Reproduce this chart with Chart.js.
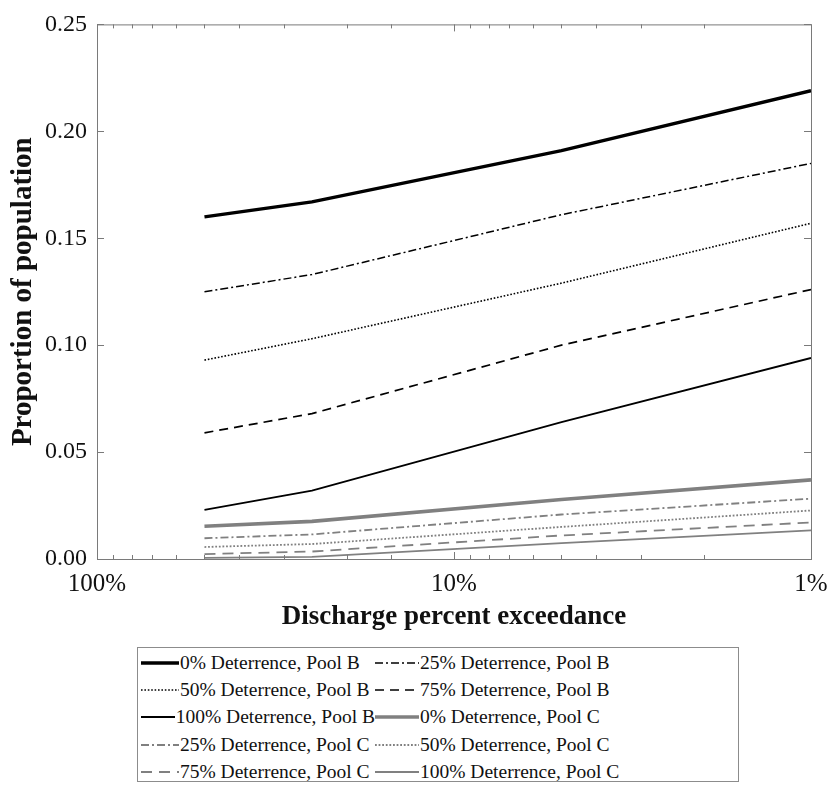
<!DOCTYPE html>
<html>
<head>
<meta charset="utf-8">
<script src="https://cdn.jsdelivr.net/npm/chart.js@4"></script>
<style>
  body { margin: 0; background: #fff; }
  #wrap { position: relative; width: 829px; height: 787px; }
  #plot { position: absolute; left: 0; top: 0; width: 829px; height: 640px; }
  #legend {
    position: absolute; left: 137px; top: 647px; width: 602px; height: 135px;
    border: 1px solid #8c8c8c; box-sizing: border-box;
    font-family: "Liberation Serif", "Times New Roman", serif; font-size: 19.5px; color: #111;
    display: grid; grid-template-columns: 234px 1fr; padding: 1px 0 0 3px;
  }
  #legend .item { display: flex; align-items: center; height: 27.4px; white-space: nowrap; }
  #legend svg { margin-right: 1px; }
</style>
</head>
<body>
<div id="wrap">
  <div id="plot"><canvas id="popChart"></canvas></div>
  <div id="legend"></div>
</div>
<script>
// exceedance probability (%) of each modelled discharge
const exceedance = [50, 25, 5, 1];

const seriesNames = [
  '0% Deterrence, Pool B', '25% Deterrence, Pool B', '50% Deterrence, Pool B',
  '75% Deterrence, Pool B', '100% Deterrence, Pool B',
  '0% Deterrence, Pool C', '25% Deterrence, Pool C', '50% Deterrence, Pool C',
  '75% Deterrence, Pool C', '100% Deterrence, Pool C'
];

const poolB0   = [0.160, 0.167, 0.191, 0.219];
const poolB25  = [0.125, 0.133, 0.161, 0.185];
const poolB50  = [0.093, 0.103, 0.129, 0.157];
const poolB75  = [0.059, 0.068, 0.100, 0.126];
const poolB100 = [0.023, 0.032, 0.064, 0.094];
const poolC0   = [0.0153, 0.0176, 0.0278, 0.0370];
const poolC25  = [0.0097, 0.0115, 0.0208, 0.0282];
const poolC50  = [0.0056, 0.0070, 0.0150, 0.0227];
const poolC75  = [0.0023, 0.0035, 0.0110, 0.0171];
const poolC100 = [0.0005, 0.0010, 0.0074, 0.0134];

const yTicks = [0, 0.05, 0.10, 0.15, 0.20, 0.25];
const xLabels = [100, 10, 1];

const values = [poolB0, poolB25, poolB50, poolB75, poolB100, poolC0, poolC25, poolC50, poolC75, poolC100];

const black = '#000000';
const gray = '#808080';
const styles = [
  { color: black, width: 3.4, dash: [] },
  { color: black, width: 1.5, dash: [8, 3, 2, 3] },
  { color: black, width: 1.6, dash: [1.6, 1.8] },
  { color: black, width: 1.7, dash: [9, 6] },
  { color: black, width: 1.8, dash: [] },
  { color: gray, width: 3.6, dash: [] },
  { color: gray, width: 1.8, dash: [8, 3, 2, 3] },
  { color: gray, width: 1.8, dash: [1.8, 1.8] },
  { color: gray, width: 1.8, dash: [11, 7] },
  { color: gray, width: 1.8, dash: [] }
];

const datasets = seriesNames.map(function (name, i) {
  return {
    label: name,
    data: exceedance.map((x, j) => ({ x: x, y: values[i][j] })),
    borderColor: styles[i].color,
    borderWidth: styles[i].width,
    borderDash: styles[i].dash,
    pointRadius: 0,
    tension: 0,
    fill: false
  };
});

// frame around the plot with inward tick marks on all four sides
const framePlugin = {
  id: 'frame',
  afterDraw(chart) {
    const ctx = chart.ctx;
    const a = chart.chartArea;
    const xs = chart.scales.x;
    const ys = chart.scales.y;
    ctx.save();
    ctx.strokeStyle = '#7a7a7a';
    ctx.lineWidth = 1;
    ctx.setLineDash([]);
    ctx.strokeRect(a.left + 0.5, a.top + 0.5, a.right - a.left, a.bottom - a.top);
    ctx.beginPath();
    xs.ticks.forEach(function (t) {
      const px = Math.round(xs.getPixelForValue(t.value)) + 0.5;
      const major = xLabels.indexOf(t.value) >= 0;
      const len = major ? 7 : 4;
      ctx.moveTo(px, a.bottom); ctx.lineTo(px, a.bottom - len);
      ctx.moveTo(px, a.top); ctx.lineTo(px, a.top + len);
    });
    yTicks.forEach(function (v) {
      const py = Math.round(ys.getPixelForValue(v)) + 0.5;
      ctx.moveTo(a.left, py); ctx.lineTo(a.left + 7, py);
      ctx.moveTo(a.right, py); ctx.lineTo(a.right - 7, py);
    });
    ctx.stroke();
    ctx.restore();
  }
};

const serif = '"Liberation Serif", "Times New Roman", serif';

new Chart(document.getElementById('popChart').getContext('2d'), {
  type: 'line',
  data: { datasets: datasets },
  options: {
    responsive: true,
    maintainAspectRatio: false,
    animation: false,
    layout: { padding: { top: 19, right: 18, left: 0, bottom: 0 } },
    plugins: {
      legend: { display: false },
      tooltip: { enabled: false }
    },
    scales: {
      x: {
        type: 'logarithmic',
        reverse: true,
        min: 1,
        max: 100,
        border: { display: false },
        grid: { display: false, drawTicks: false },
        ticks: {
          autoSkip: false,
          maxRotation: 0,
          padding: 10,
          color: '#111',
          font: { family: serif, size: 25 },
          callback: function (v) { return xLabels.indexOf(v) >= 0 ? v + '%' : ''; }
        },
        title: {
          display: true,
          text: 'Discharge percent exceedance',
          color: '#111',
          font: { family: serif, size: 27, weight: 'bold' },
          padding: { top: 0, bottom: 7 }
        },
        afterFit: function (s) {
          s.height = 81;
          s.paddingLeft = 0;
          s.paddingRight = 0;
        }
      },
      y: {
        min: 0,
        max: 0.25,
        border: { display: false },
        grid: { display: false, drawTicks: false },
        afterBuildTicks: function (s) { s.ticks = yTicks.map(v => ({ value: v })); },
        ticks: {
          padding: 10,
          color: '#111',
          font: { family: serif, size: 24 },
          callback: function (v) { return v.toFixed(2); }
        },
        title: {
          display: true,
          text: 'Proportion of population',
          color: '#111',
          font: { family: serif, size: 29, weight: 'bold' },
          padding: { top: 6, bottom: 0 }
        },
        afterFit: function (s) { s.width = 97; }
      }
    }
  },
  plugins: [framePlugin]
});

// legend: two columns, line samples drawn with the same styles
const legendEl = document.getElementById('legend');
seriesNames.forEach(function (name, i) {
  const st = styles[i];
  const w = (i % 2 === 0) ? 38 : 44;
  const item = document.createElement('div');
  item.className = 'item';
  item.innerHTML =
    '<svg width="' + w + '" height="10"><line x1="0" y1="5" x2="' + w + '" y2="5" stroke="' + st.color +
    '" stroke-width="' + st.width + '" stroke-dasharray="' + (st.dash.length ? st.dash.join(',') : 'none') +
    '"/></svg><span>' + name + '</span>';
  legendEl.appendChild(item);
});
</script>
</body>
</html>
